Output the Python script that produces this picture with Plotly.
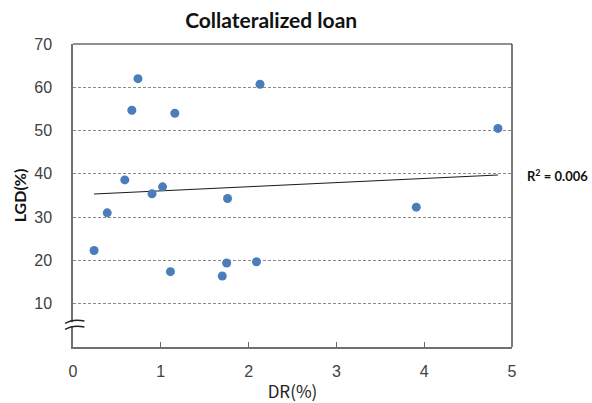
import numpy as np
import plotly.graph_objects as go

# Default rate (%) and loss given default (%) per observation
dr = [0.24, 0.39, 0.59, 0.67, 0.74, 0.90, 1.02, 1.11, 1.16, 1.70,
      1.75, 1.76, 2.09, 2.13, 3.91, 4.84]
lgd = [22.3, 31.0, 38.6, 54.7, 62.0, 35.4, 37.0, 17.4, 54.0, 16.4,
       19.4, 34.3, 19.7, 60.7, 32.3, 50.5]
r2_label = "0.006"

x_ticks = [0, 1, 2, 3, 4, 5]
y_ticks = [10, 20, 30, 40, 50, 60, 70]

# Ordinary least squares trend line across the observed DR range
slope, intercept = np.polyfit(dr, lgd, 1)
x_fit = np.array([min(dr), max(dr)])
y_fit = slope * x_fit + intercept

fig = go.Figure()
fig.add_trace(go.Scatter(
    x=x_fit, y=y_fit, mode="lines",
    line=dict(color="#1a1a1a", width=1), hoverinfo="skip", showlegend=False,
))
fig.add_trace(go.Scatter(
    x=dr, y=lgd, mode="markers",
    marker=dict(color="#4a7ebb", size=9), showlegend=False,
))

tick_font = dict(family="Liberation Sans, Arial, sans-serif", size=16, color="#404040")

fig.update_layout(
    width=592, height=403,
    margin=dict(l=73, r=80, t=44, b=56, autoexpand=False),
    paper_bgcolor="white", plot_bgcolor="white",
    title=dict(text="<b>Collateralized loan</b>", x=0.458, xanchor="center",
               y=0.948, yanchor="middle",
               font=dict(family="Lato, Open Sans, sans-serif", size=21, color="#111")),
    xaxis=dict(
        range=[0, 5], tickvals=x_ticks, ticks="inside", ticklen=5, tickcolor="#666",
        showgrid=False, zeroline=False, showline=True, linecolor="#707070", linewidth=1.5,
        tickfont=tick_font, ticklabelstandoff=9, automargin=False,
        title=dict(text="DR(%)", standoff=14,
                   font=dict(family="Noto Sans CJK KR, sans-serif", size=17, color="#222")),
    ),
    yaxis=dict(
        range=[0, 70], tickvals=y_ticks, ticks="", showgrid=True,
        gridcolor="#8a8a8a", griddash="3px,2px", gridwidth=1,
        zeroline=False, showline=True, linecolor="#707070", linewidth=1.5,
        tickfont=tick_font, ticklabelstandoff=16, automargin=False,
        title=dict(text="<b>LGD(%)</b>", standoff=4,
                   font=dict(family="Lato, Open Sans, sans-serif", size=16, color="#111")),
    ),
    annotations=[dict(
        text="<b>R<sup>2</sup> = " + r2_label + "</b>", xref="paper", yref="paper",
        x=1.03, y=y_fit[-1] / 70, xanchor="left", yanchor="middle", showarrow=False,
        font=dict(family="Lato, Open Sans, sans-serif", size=13, color="#111"),
    )],
    shapes=[
        # top and right frame
        dict(type="line", xref="paper", yref="paper", x0=0, x1=1, y0=1, y1=1,
             line=dict(color="#222", width=1.2)),
        dict(type="line", xref="paper", yref="paper", x0=1, x1=1, y0=0, y1=1,
             line=dict(color="#222", width=1.2)),
        # axis break on the y axis
        dict(type="rect", xref="paper", yref="paper", x0=-0.02, x1=0.02,
             y0=0.066, y1=0.082, fillcolor="white", line=dict(width=0)),
        dict(type="path", xref="paper", yref="paper",
             path="M -0.018 0.078 Q 0 0.094 0.026 0.086",
             line=dict(color="#222", width=1.5)),
        dict(type="path", xref="paper", yref="paper",
             path="M -0.018 0.058 Q 0 0.074 0.026 0.066",
             line=dict(color="#222", width=1.5)),
    ],
)

fig.write_html("out.html")
